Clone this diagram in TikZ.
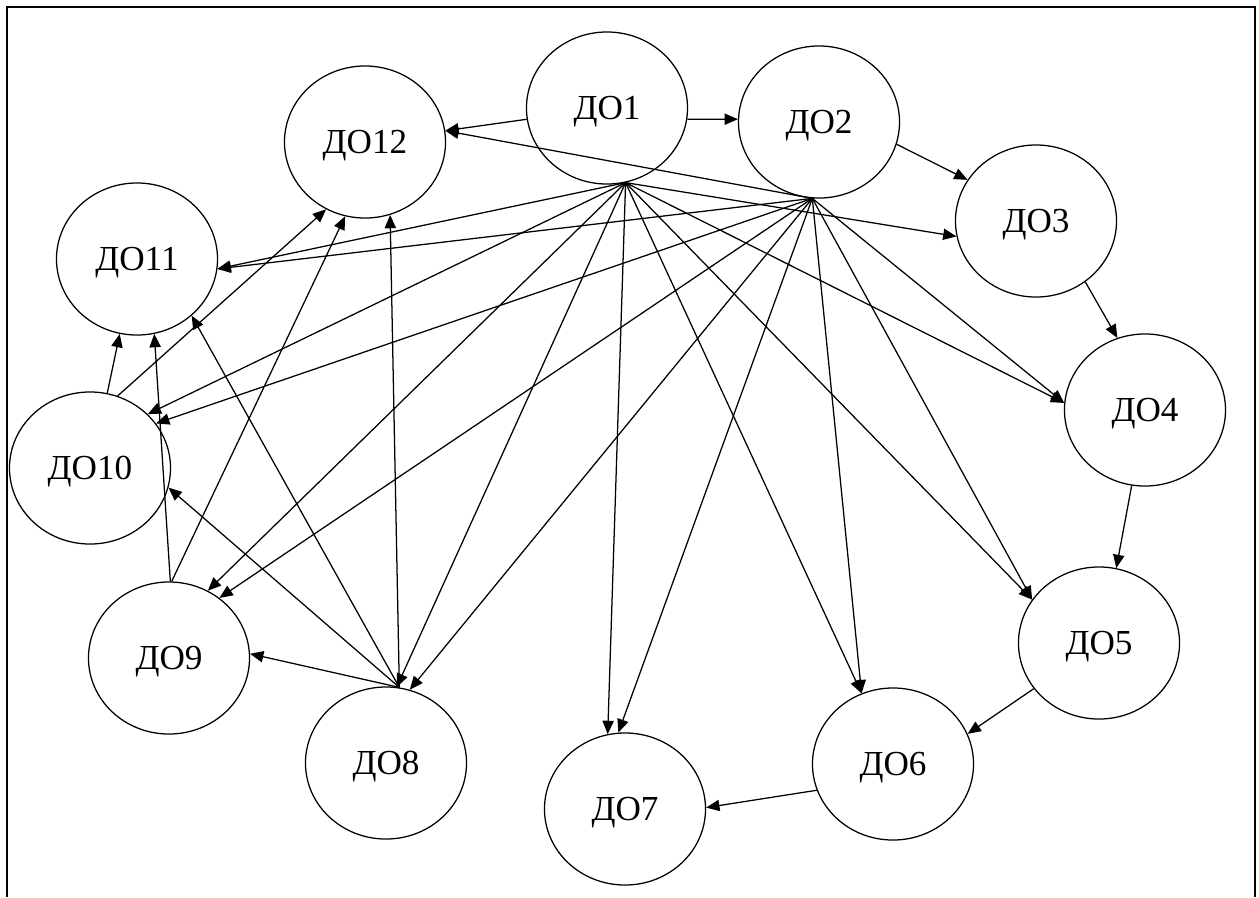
\documentclass[tikz,border=0pt]{standalone}
\usepackage{fontspec}
\setmainfont{Liberation Serif}
\usetikzlibrary{shapes.geometric, arrows.meta}

\begin{document}
\begin{tikzpicture}[x=0.025cm, y=-0.025cm, line width=0.9pt,
  sost/.style={draw, ellipse, inner sep=0pt, minimum width=4.025cm,
    minimum height=3.8cm, text depth=0pt, font=\fontsize{25}{30}\selectfont},
  arr/.style={-{Triangle[length=9.5pt, width=8pt]}}]
  \useasboundingbox (0,0) rectangle (1259,897);

  % frame
  \draw[line width=1.4pt] (7,897) -- (7,7) -- (1255,7) -- (1255,897);

  % nodes
  \node[sost] (do1) at (607,108) {ДО1};
  \node[sost] (do2) at (819,122) {ДО2};
  \node[sost] (do3) at (1036,221) {ДО3};
  \node[sost] (do4) at (1145,410) {ДО4};
  \node[sost] (do5) at (1099,643) {ДО5};
  \node[sost] (do6) at (893,764) {ДО6};
  \node[sost] (do7) at (625,809) {ДО7};
  \node[sost] (do8) at (386,763) {ДО8};
  \node[sost] (do9) at (169,658) {ДО9};
  \node[sost] (do10) at (90,468) {ДО10};
  \node[sost] (do11) at (137,259) {ДО11};
  \node[sost] (do12) at (365,142) {ДО12};

  % ring
  \draw[arr] (do1.188) -- (do12.8);
  \draw[arr] (do1.-8) -- (do2.178);
  \draw[arr] (do2.-16) -- (do3.149);
  \draw[arr] (do3.-51) -- (do4.111);
  \draw[arr] (do4.-100) -- (do5.77);
  \draw[arr] (do5.215) -- (do6.22);
  \draw[arr] (do6.199) -- (do7.1);

  % from DO1
  \draw[arr] (do1.-76) -- (do3.191);
  \draw[arr] (do1.-76) -- (do4.175);
  \draw[arr] (do1.-76) -- (do5.147);
  \draw[arr] (do1.-76) -- (do6.114);
  \draw[arr] (do1.-76) -- (do7.103);
  \draw[arr] (do1.-76) -- (do8.82);
  \draw[arr] (do1.-76) -- (do9.60);
  \draw[arr] (do1.-76) -- (do10.43);
  \draw[arr] (do1.-76) -- (do11.-7);

  % from DO2
  \draw[arr] (do2.-95) -- (do12.8);
  \draw[arr] (do2.-95) -- (do4.175);
  \draw[arr] (do2.-95) -- (do5.147);
  \draw[arr] (do2.-95) -- (do6.114);
  \draw[arr] (do2.-95) -- (do7.95);
  \draw[arr] (do2.-95) -- (do8.72);
  \draw[arr] (do2.-95) -- (do9.50);
  \draw[arr] (do2.-95) -- (do10.34);
  \draw[arr] (do2.-95) -- (do11.-7);

  % left side
  \draw[arr] (do8.80) -- (do9.3);
  \draw[arr] (do8.80) -- (do10.-14);
  \draw[arr] (do8.80) -- (do11.-46);
  \draw[arr] (do8.80) -- (do12.-71);
  \draw[arr] (do9.89) -- (do11.-77);
  \draw[arr] (do9.88) -- (do12.-105);
  \draw[arr] (do10.77) -- (do11.-103);
  \draw[arr] (do10.69) -- (do12.-120);
\end{tikzpicture}
\end{document}
